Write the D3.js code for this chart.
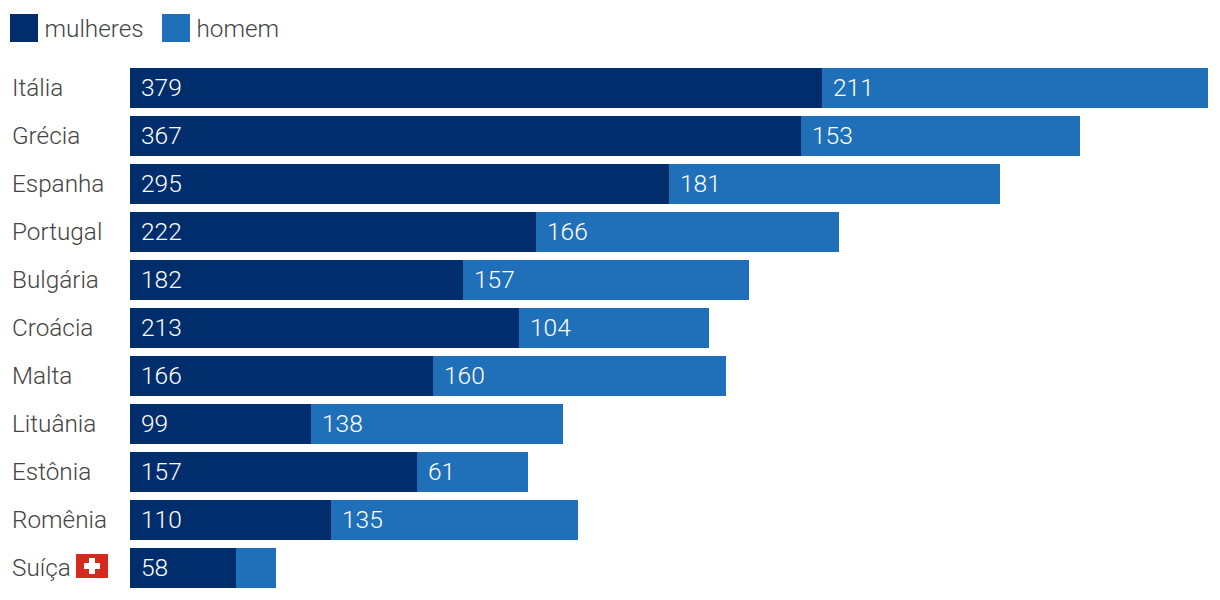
<!DOCTYPE html>
<html>
<head>
<meta charset="utf-8">
<script src="https://cdn.jsdelivr.net/npm/d3@7"></script>
<style>
    html, body { margin: 0; padding: 0; background: #fff; }
    svg { display: block; }
    text { font-family: Roboto, Inter, "Noto Sans", sans-serif; font-weight: 300; }
</style>
</head>
<body>
<svg id="chart"></svg>
<script>
const countries = ['Itália', 'Grécia', 'Espanha', 'Portugal', 'Bulgária', 'Croácia', 'Malta', 'Lituânia', 'Estônia', 'Romênia', 'Suíça'];
const mulheres = [379, 367, 295, 222, 182, 213, 166, 99, 157, 110, 58];
const homem = [211, 153, 181, 166, 157, 104, 160, 138, 61, 135, 22];
const seriesNames = ['mulheres', 'homem'];
const seriesColors = ['#002d6b', '#2070b9'];
const unlabeled = ['Suíça']; // segment too small for a number

var width = 1220;
var height = 600;
var svg = d3.select('#chart').attr('width', width).attr('height', height);

var x = d3.scaleLinear().domain([0, 590]).rangeRound([130, 1208]);
var y = d3.scaleBand().domain(countries).range([68, 588]).paddingInner(1 / 6);

// legend
var legendX = [10, 162];
seriesNames.forEach(function(name, i) {
    svg.append('rect')
        .attr('x', legendX[i]).attr('y', 14)
        .attr('width', 28).attr('height', 28)
        .attr('fill', seriesColors[i]);
    svg.append('text')
        .attr('x', legendX[i] + 34.5).attr('y', 36.5)
        .style('font-size', '24.3px')
        .attr('fill', '#444')
        .text(name);
});

// country labels
svg.selectAll('.country')
    .data(countries)
    .enter().append('text')
    .attr('class', 'country')
    .attr('x', 12)
    .attr('y', d => y(d) + y.bandwidth() / 2 + 8)
    .style('font-size', '24.3px')
    .attr('fill', '#444')
    .text(d => d);

// swiss flag
var flag = svg.append('g').attr('transform', 'translate(76,' + (y('Suíça') + 6) + ')');
flag.append('rect').attr('width', 32).attr('height', 24).attr('fill', '#d52b1e');
flag.append('rect').attr('x', 13).attr('y', 4).attr('width', 6).attr('height', 16).attr('fill', '#fff');
flag.append('rect').attr('x', 8).attr('y', 9).attr('width', 16).attr('height', 6).attr('fill', '#fff');

// stacked bars
var rows = countries.map((c, i) => ({ country: c, mulheres: mulheres[i], homem: homem[i] }));
var stacked = d3.stack().keys(seriesNames)(rows);

var layers = svg.selectAll('.layer')
    .data(stacked)
    .enter().append('g')
    .attr('class', 'layer')
    .attr('fill', (d, i) => seriesColors[i]);

layers.selectAll('rect')
    .data(d => d)
    .enter().append('rect')
    .attr('x', d => x(d[0]))
    .attr('y', d => y(d.data.country))
    .attr('width', d => x(d[1]) - x(d[0]))
    .attr('height', y.bandwidth());

layers.selectAll('text')
    .data(d => d.filter(s => !(unlabeled.includes(s.data.country) && s[0] > 0)))
    .enter().append('text')
    .attr('x', d => x(d[0]) + 11)
    .attr('y', d => y(d.data.country) + y.bandwidth() / 2 + 8)
    .style('font-size', '24.5px')
    .attr('fill', '#fff')
    .text(d => d[1] - d[0]);
</script>
</body>
</html>
